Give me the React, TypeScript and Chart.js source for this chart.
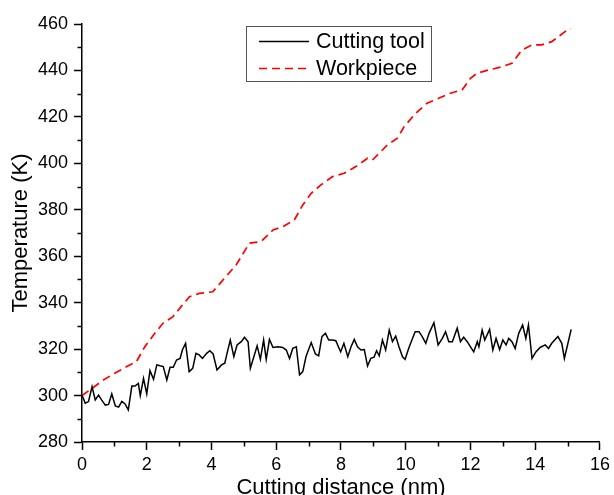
import React, { useEffect, useRef } from 'react';
import { Chart, registerables } from 'chart.js';

Chart.register(...registerables);

const FONT = '"Liberation Sans", Arial, Helvetica, sans-serif';

// X axis
const xMin = 0;
const xMax = 16;
const xStep = 2;
// Y axis
const yMin = 280;
const yMax = 460;
const yStep = 20;

const xTitle = 'Cutting distance (nm)';
const yTitle = 'Temperature (K)';

const toolLabel = 'Cutting tool';
const toolX = [
  0, 0.1, 0.2, 0.31, 0.41, 0.51, 0.61, 0.72, 0.82, 0.92, 1.03, 1.13, 1.23, 1.33, 1.43, 1.54, 1.64, 1.74, 1.8, 1.9,
  2.0, 2.1, 2.21, 2.31, 2.41, 2.51, 2.62, 2.72, 2.82, 2.92, 3.03, 3.1, 3.2, 3.31, 3.42, 3.52, 3.62, 3.72, 3.85, 3.95,
  4.05, 4.17, 4.31, 4.41, 4.48, 4.58, 4.69, 4.79, 4.92, 5.02, 5.13, 5.2, 5.31, 5.41, 5.51, 5.61, 5.69, 5.79, 5.9, 6.05,
  6.2, 6.31, 6.41, 6.51, 6.62, 6.72, 6.82, 6.92, 7.08, 7.21, 7.31, 7.41, 7.52, 7.62, 7.74, 7.84, 7.92, 7.99, 8.09, 8.21,
  8.31, 8.41, 8.51, 8.62, 8.72, 8.82, 8.92, 9.02, 9.1, 9.18, 9.28, 9.38, 9.49, 9.59, 9.69, 9.79, 9.9, 9.98, 10.1, 10.29,
  10.41, 10.51, 10.62, 10.72, 10.87, 11.0, 11.13, 11.23, 11.33, 11.44, 11.59, 11.69, 11.79, 11.9, 12.0, 12.1, 12.21, 12.26, 12.36, 12.44,
  12.59, 12.69, 12.79, 12.9, 13.0, 13.1, 13.18, 13.28, 13.38, 13.49, 13.61, 13.71, 13.79, 13.9, 14.02, 14.15, 14.31, 14.41, 14.51, 14.7,
  14.82, 14.9, 15.11,
];
const toolY = [
  300.2, 296.7, 297.4, 303.8, 298.1, 300.2, 298, 295.9, 296.2, 300.7, 295.5, 295, 297.5, 296.4, 293.8, 304.1, 304.1, 305.2, 300, 307.4,
  300.7, 310.7, 307, 313.2, 312.8, 312.5, 306.7, 312.2, 312.2, 315.3, 316, 319.6, 322.5, 310.3, 311.7, 318.2, 317.5, 316, 318.2, 319.3,
  317.9, 311, 313.2, 313.9, 318.2, 323.9, 316.8, 321.8, 323.2, 325.1, 323.2, 311.7, 316.8, 321.4, 315.6, 323.9, 315.6, 324.2, 320.7, 321,
  320.7, 319.6, 316, 320.3, 321, 308.9, 310.3, 316.8, 322.8, 317.9, 317.1, 325.4, 326.8, 323.9, 323.9, 323.6, 321, 318.8, 322.5, 316.7,
  321, 324.2, 321, 319.6, 319.8, 312.7, 316, 316.5, 319.3, 317.1, 323.9, 319.6, 328.2, 323.2, 325.6, 321, 316.7, 315.6, 320.7, 327.5,
  327.5, 325.4, 322.5, 326.8, 331.4, 321.8, 324.6, 327.5, 323.2, 323.2, 329, 323.2, 325.1, 323.2, 321, 318.8, 323.2, 321, 328.2, 323.9,
  328.5, 319.6, 324.6, 319.8, 323.9, 321.8, 324.6, 323.2, 320.3, 326.8, 330.4, 324.6, 330.4, 316, 318.8, 320.7, 321.8, 320.3, 322.5, 325.4,
  322.5, 316, 328.5,
];

const workLabel = 'Workpiece';
const workX = [
  0, 0.3, 0.66, 1.01, 1.37, 1.68, 1.94, 2.25, 2.5, 2.81, 3.06, 3.32, 3.63, 4.04, 4.4, 4.76, 5.17, 5.53, 5.9, 6.2,
  6.56, 6.82, 7.08, 7.38, 7.74, 8.1, 8.46, 8.82, 8.97, 9.43, 9.74, 9.95, 10.31, 10.66, 11.02, 11.38, 11.74, 12.0, 12.2, 12.56,
  12.97, 13.28, 13.59, 13.9, 14.2, 14.51, 14.92, 15.1,
];
const workY = [
  300, 303, 306.7, 309.6, 312.4, 314.6, 321, 326.8, 331.1, 334, 338.3, 342.6, 344, 344.7, 350.5, 356.2, 365.6, 366.3, 371.3, 372.7,
  375.6, 382.1, 387.1, 390.7, 394.3, 395.7, 398.6, 402.2, 401.4, 407.9, 410.8, 415.8, 421.6, 425.9, 428, 430.2, 431.6, 436.6, 438.8, 440.2,
  441.6, 443.1, 448.8, 451, 451, 452.4, 456.7, 458,
];

const minorTicksPlugin = {
  id: 'minorTicks',
  afterDraw(chart: any) {
    const { ctx, scales } = chart;
    const x = scales.x;
    const y = scales.y;
    ctx.save();
    ctx.strokeStyle = '#000';
    ctx.lineWidth = 1.5;
    ctx.beginPath();
    for (let v = xMin + xStep / 2; v < xMax; v += xStep) {
      const px = Math.round(x.getPixelForValue(v)) + 0.5;
      ctx.moveTo(px, x.top);
      ctx.lineTo(px, x.top + 4.5);
    }
    for (let v = yMin + yStep / 2; v < yMax; v += yStep) {
      const py = Math.round(y.getPixelForValue(v)) + 0.5;
      ctx.moveTo(y.right, py);
      ctx.lineTo(y.right - 4.5, py);
    }
    ctx.stroke();
    ctx.restore();
  },
};

const boxLegendPlugin = {
  id: 'boxLegend',
  afterDraw(chart: any) {
    const { ctx } = chart;
    const left = 246;
    const top = 26;
    const w = 185;
    const h = 55;
    ctx.save();
    ctx.fillStyle = '#fff';
    ctx.fillRect(left, top, w, h);
    ctx.strokeStyle = '#555';
    ctx.lineWidth = 1;
    ctx.strokeRect(left + 0.5, top + 0.5, w, h);
    ctx.font = `21.5px ${FONT}`;
    ctx.textBaseline = 'middle';
    ctx.textAlign = 'left';
    chart.data.datasets.forEach((ds: any, i: number) => {
      const cy = top + 15.5 + i * 27;
      ctx.save();
      ctx.strokeStyle = ds.borderColor;
      ctx.lineWidth = ds.borderWidth;
      ctx.setLineDash(ds.borderDash || []);
      ctx.beginPath();
      ctx.moveTo(left + 13, cy);
      ctx.lineTo(left + 63, cy);
      ctx.stroke();
      ctx.restore();
      ctx.fillStyle = '#000';
      ctx.fillText(ds.label, left + 70, cy + 1);
    });
    ctx.restore();
  },
};

export default function App() {
  const canvasRef = useRef<HTMLCanvasElement | null>(null);

  useEffect(() => {
    const canvas = canvasRef.current;
    if (!canvas) return;
    const chart = new Chart(canvas, {
      type: 'scatter',
      data: {
        datasets: [
          {
            label: toolLabel,
            data: toolX.map((x, i) => ({ x, y: toolY[i] })),
            showLine: true,
            borderColor: '#000000',
            backgroundColor: '#000000',
            borderWidth: 1.5,
            pointRadius: 0,
            tension: 0,
          },
          {
            label: workLabel,
            data: workX.map((x, i) => ({ x, y: workY[i] })),
            showLine: true,
            borderColor: '#ff0000',
            backgroundColor: '#ff0000',
            borderWidth: 1.7,
            borderDash: [8, 5],
            pointRadius: 0,
            tension: 0,
          },
        ],
      },
      options: {
        responsive: false,
        animation: false,
        layout: { padding: { top: 24, right: 12, left: 0, bottom: 0 } },
        plugins: {
          legend: { display: false },
          tooltip: { enabled: false },
        },
        scales: {
          x: {
            type: 'linear',
            min: xMin,
            max: xMax,
            afterFit: (s: any) => {
              s.height = 53;
            },
            ticks: {
              stepSize: xStep,
              color: '#000',
              padding: 4,
              font: { family: FONT, size: 18 },
            },
            grid: {
              drawOnChartArea: false,
              drawTicks: true,
              tickLength: 8,
              tickColor: '#000',
              tickWidth: 1.5,
            },
            border: { display: true, color: '#000', width: 1.5 },
            title: {
              display: true,
              text: xTitle,
              color: '#000',
              font: { family: FONT, size: 22 },
              padding: { top: 0, bottom: -6 },
            },
          },
          y: {
            type: 'linear',
            min: yMin,
            max: yMax,
            afterFit: (s: any) => {
              s.width = 82;
            },
            ticks: {
              stepSize: yStep,
              color: '#000',
              padding: 6,
              font: { family: FONT, size: 18 },
            },
            grid: {
              drawOnChartArea: false,
              drawTicks: true,
              tickLength: 8,
              tickColor: '#000',
              tickWidth: 1.5,
            },
            border: { display: true, color: '#000', width: 1.5 },
            title: {
              display: true,
              text: yTitle,
              color: '#000',
              font: { family: FONT, size: 22 },
              padding: { top: 8, bottom: 0 },
            },
          },
        },
      },
      plugins: [minorTicksPlugin, boxLegendPlugin],
    });
    return () => chart.destroy();
  }, []);

  return (
    <div style={{ position: 'fixed', left: 0, top: 0, width: 614, height: 495, background: '#fff' }}>
      <canvas ref={canvasRef} width={614} height={495} />
    </div>
  );
}
